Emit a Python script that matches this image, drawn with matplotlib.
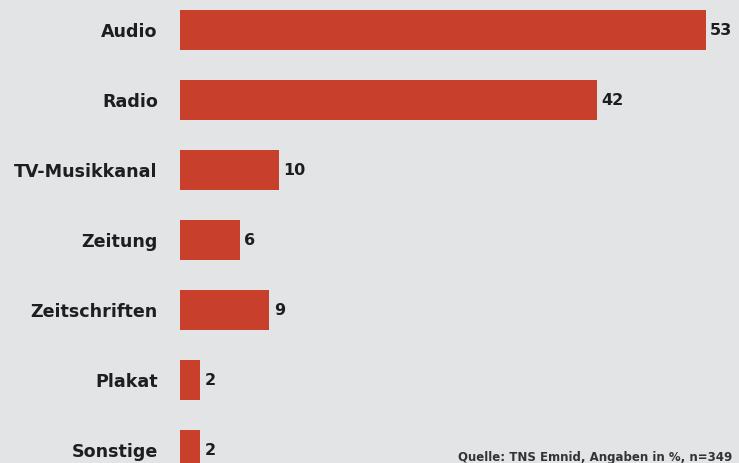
import matplotlib.pyplot as plt

# Mediennutzung - Werte in Prozent
kategorien = ['Audio', 'Radio', 'TV-Musikkanal', 'Zeitung', 'Zeitschriften', 'Plakat', 'Sonstige']
werte = [53, 42, 10, 6, 9, 2, 2]
quelle = 'Quelle: TNS Emnid, Angaben in %, n=349'

bg = '#e3e4e6'
bar_color = '#c8402c'

fig = plt.figure(figsize=(7.39, 4.63), dpi=100, facecolor=bg)
ax = fig.add_axes([180 / 739, -22 / 463, 559 / 739, 490 / 463])
ax.set_facecolor(bg)

pos = list(range(len(kategorien)))
ax.barh(pos, werte, height=0.57, color=bar_color)
for p, v in zip(pos, werte):
    ax.text(v + 0.45, p, str(v), va='center', ha='left', fontsize=11.5,
            fontweight='bold', color='#1e1e1e')

ax.set_yticks(pos)
ax.set_yticklabels(kategorien, fontsize=12.6, fontweight='bold', color='#1e1e1e')
ax.tick_params(axis='y', length=0, pad=16)
ax.set_xticks([])
ax.set_xlim(0, 559 / 9.92)
ax.set_ylim(6.5, -0.5)
for s in ax.spines.values():
    s.set_visible(False)

fig.text(458 / 739, 1 - 451 / 463, quelle, fontsize=8.5, fontweight='bold',
         color='#333333', va='top', ha='left')

fig.savefig('out.png', dpi=100, facecolor=bg)
